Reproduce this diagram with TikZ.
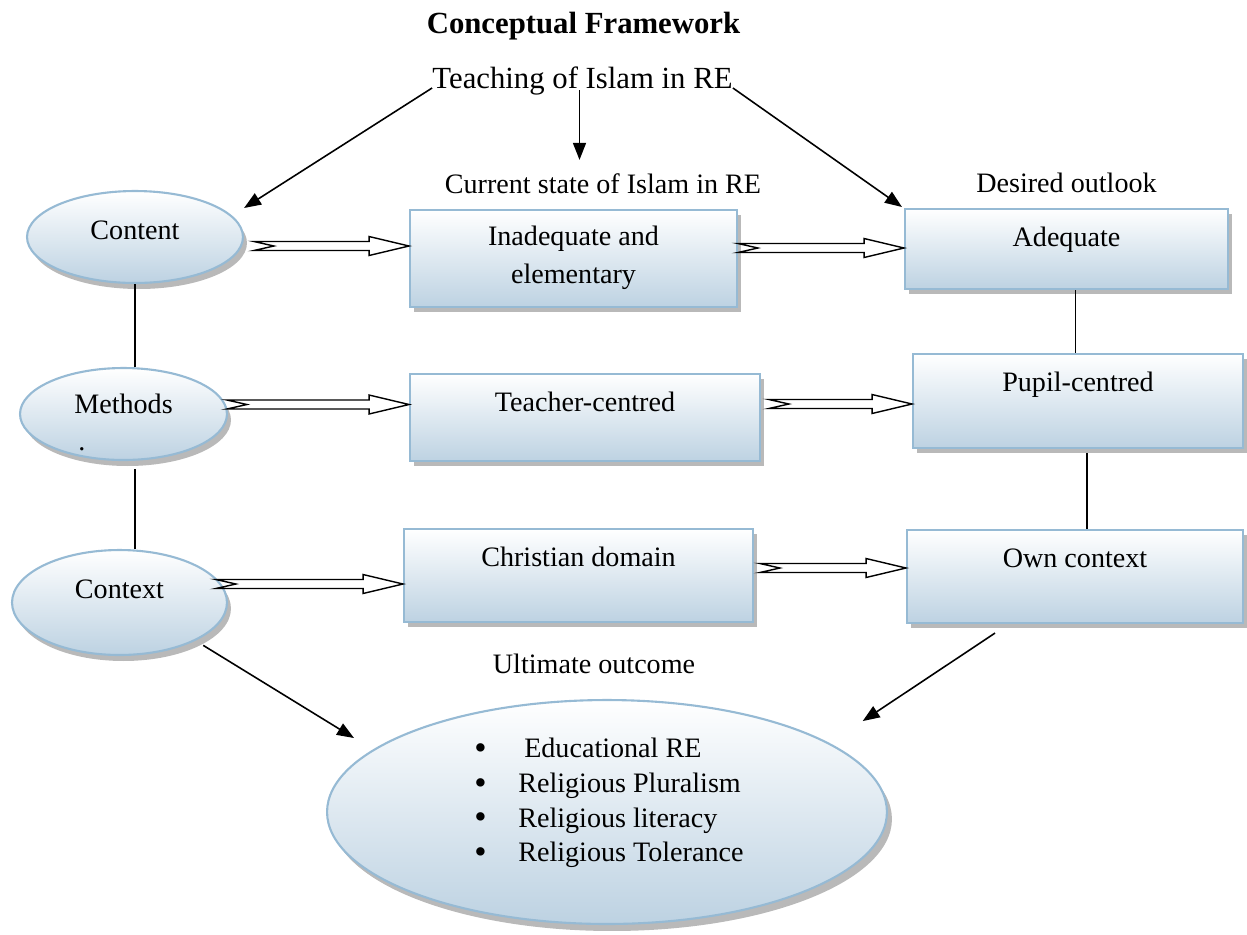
\documentclass[tikz,border=0pt]{standalone}
\usepackage{fontspec}
\setmainfont{Liberation Serif}
\usetikzlibrary{
  arrows.meta,
  shapes.geometric,
  shadows,
  calc,
  positioning
}
\definecolor{boxline}{RGB}{150,186,212}
\definecolor{boxfill}{RGB}{189,210,226}

% hollow notched arrow between two points (same height)
\newcommand\blockarrow[2]{%
  \draw[dblarrow] let \p1=#1, \p2=#2 in
    (\x1,\y1+2.55pt) -- (\x2-22.7pt,\y1+2.55pt) -- (\x2-22.7pt,\y1+5.4pt)
    -- (\x2,\y1) -- (\x2-22.7pt,\y1-5.4pt) -- (\x2-22.7pt,\y1-2.55pt)
    -- (\x1,\y1-2.55pt) -- (\x1+11.3pt,\y1) -- cycle;}
\newcommand\bigdot{\raisebox{-1pt}{\fontsize{20}{19.8}\selectfont\textbullet}}

\begin{document}
\begin{tikzpicture}[
      x=0.02cm,y=-0.02cm,
      font=\fontsize{16}{19.8}\selectfont,
      box/.style={
         rectangle,
         draw=boxline,
         line width=1.2pt,
         top color=white,
         bottom color=boxfill,
         inner xsep=0pt,
         inner ysep=0pt,
         text height=7.4mm,
         align=center,
         anchor=north,
         drop shadow={shadow xshift=0.8mm,shadow yshift=-1mm,fill=gray!55,opacity=1}
      },
      oval/.style={
         ellipse,
         draw=boxline,
         line width=1.2pt,
         top color=white,
         bottom color=boxfill,
         inner sep=0pt,
         text height=3.6mm,
         drop shadow={shadow xshift=0.8mm,shadow yshift=-1.2mm,fill=gray!55,opacity=1}
      },
      heading/.style={inner sep=0pt,anchor=base},
      tip/.style={-{Triangle[length=3.4mm,width=2.6mm]},line width=0.9pt},
      dblarrow/.style={draw=black,fill=white,line width=0.8pt}
    ]
    \useasboundingbox (0,0) rectangle (1247,934);

    % headings
    \node[heading,font=\fontsize{17.5}{20}\selectfont\bfseries] (title) at (583.5,33) {Conceptual Framework};
    \node[heading,font=\fontsize{17.5}{20}\selectfont] (teaching) at (582.5,88) {Teaching of Islam in RE};
    \node[heading] (current) at (603,193) {Current state of Islam in RE};
    \node[heading] (desired) at (1066.5,192) {Desired outlook};
    \node[heading] (ultimate) at (594,673) {Ultimate outcome};

    % left column
    \node[oval,minimum width=43.2mm,minimum height=18.4mm,text depth=2.8mm] (content) at (135,237) {Content};
    \node[oval,minimum width=41.4mm,minimum height=18.4mm,text depth=4.0mm] (methods) at (123.5,414) {Methods};
    \node[heading] (mdot) at (82,450) {.};
    \node[oval,minimum width=43mm,minimum height=21mm,text depth=5.4mm] (context) at (119.5,602.5) {Context};

    % current state
    \node[box,minimum width=65.4mm,text height=14.6mm,text depth=4.8mm] (inad) at (573.5,209) {Inadequate and\\[1.5pt]elementary};
    \node[box,minimum width=70mm,text depth=10mm] (teacher) at (585,373) {Teacher-centred};
    \node[box,minimum width=69.8mm,text depth=11.2mm] (christian) at (578.5,528) {Christian domain};

    % desired outlook
    \node[box,minimum width=64.6mm,text depth=8.6mm] (adequate) at (1066.5,208) {Adequate};
    \node[box,minimum width=66mm,text depth=11.4mm] (pupil) at (1078,353) {Pupil-centred};
    \node[box,minimum width=67.2mm,text depth=11.2mm] (own) at (1075,529) {Own context};

    % ultimate outcome
    \node[oval,minimum width=112mm,minimum height=44.8mm,drop shadow={shadow xshift=1mm,shadow yshift=-1.4mm,fill=gray!55,opacity=1}] (outcome) at (607,812) {};
    \node[inner sep=0pt,align=left,anchor=west] (goals) at ([shift={(-133,-9)}]outcome.center)
      {\bigdot\hspace{18pt}\hspace{3.4pt}Educational RE\\
       \bigdot\hspace{18pt}Religious Pluralism\\
       \bigdot\hspace{18pt}Religious literacy\\
       \bigdot\hspace{18pt}Religious Tolerance};

    % arrows from the top
    \draw[tip] (teaching.base west) -- ([shift={(0,-29)}]content.east);
    \draw[tip] ([shift={(-3,2)}]teaching.base) -- ([shift={(-3,-13)}]teaching.base |- current.north);
    \draw[tip] (teaching.base east) -- ([shift={(-2,-1)}]adequate.north west);

    % plain links
    \draw[line width=0.9pt] (content.south) -- (content.south |- methods.north);
    \draw[line width=0.9pt] ([shift={(0,8)}]content.south |- methods.south) -- (content.south |- context.north);
    \draw[line width=0.9pt] ([shift={(9,0)}]adequate.south) -- ([shift={(9,0)}]adequate.south |- pupil.north);
    \draw[line width=0.9pt] ([shift={(9,4)}]pupil.south) -- ([shift={(9,0)}]pupil.south |- own.north);

    % hollow arrows
    \blockarrow{([shift={(10,9)}]content.east)}{(inad.west)}
    \blockarrow{([shift={(0,39)}]inad.north east)}{(adequate.west)}
    \blockarrow{([shift={(-1,-9.5)}]methods.east)}{(teacher.west)}
    \blockarrow{([shift={(8,31)}]teacher.north east)}{(pupil.west)}
    \blockarrow{([shift={(-12,-18.5)}]context.east)}{(christian.west)}
    \blockarrow{([shift={(6,40)}]christian.north east)}{(own.west)}

    % to the outcome
    \draw[tip] ([shift={(7,5)}]context.south east) -- ([shift={(28,-74)}]outcome.west);
    \draw[tip] ([shift={(-80,9)}]own.south) -- ([shift={(57,-11)}]outcome.north east);
\end{tikzpicture}
\end{document}
